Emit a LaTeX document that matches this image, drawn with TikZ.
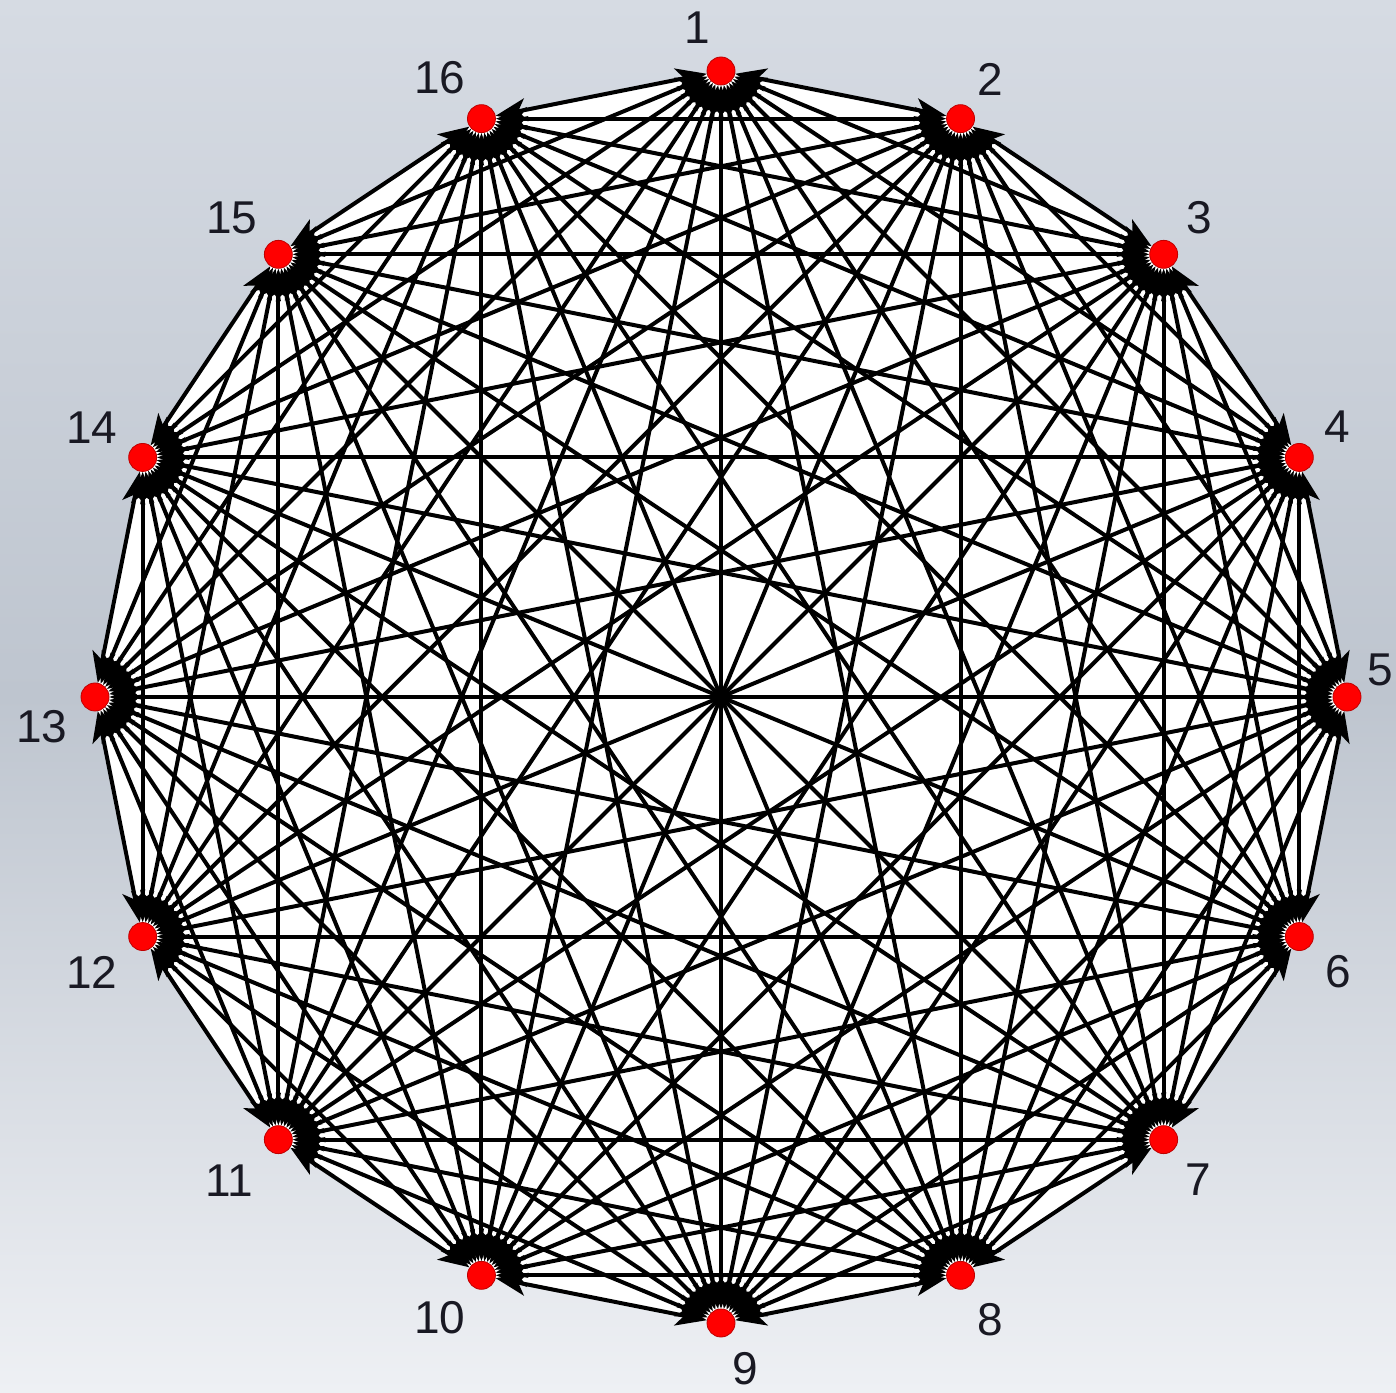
\documentclass[tikz,border=0pt]{standalone}
\usepackage{fontspec}
\setmainfont{Liberation Sans}
\usetikzlibrary{arrows.meta}
\pgfdeclarelayer{bg}
\pgfsetlayers{bg,main}
\definecolor{bgtop}{RGB}{214,219,227}
\definecolor{bgmid}{RGB}{190,197,207}
\definecolor{bgbot}{RGB}{238,240,244}
\definecolor{dotred}{RGB}{255,0,0}
\definecolor{labelcol}{RGB}{25,25,35}
\begin{document}
\begin{tikzpicture}[x=1pt,y=1pt,
  vertex/.style={circle,fill=dotred,draw=red!75!black,line width=0.8pt,minimum size=28pt,inner sep=0pt},
  edge/.style={line width=4pt,black,{Stealth[length=31pt,width=23pt,inset=8pt]}-{Stealth[length=31pt,width=23pt,inset=8pt]}},
  lab/.style={font=\fontsize{46}{46}\selectfont,text=labelcol,inner sep=0pt}]
\useasboundingbox (0,0) rectangle (1396,1392);
\foreach \k in {1,...,16} {
  \node[vertex] (n\k) at ({721+626*cos(90-(\k-1)*22.5)},{695+626*sin(90-(\k-1)*22.5)}) {};
}
\begin{pgfonlayer}{bg}
  \shade[top color=bgtop,bottom color=bgbot,middle color=bgmid] (0,0) rectangle (1396,1392);
  \fill[white] (n1.center) \foreach \k in {2,...,16}{ -- (n\k.center)} -- cycle;
  \foreach \i in {1,...,15}{
    \pgfmathtruncatemacro\s{\i+1}
    \foreach \j in {\s,...,16}{ \draw[edge] (n\i) -- (n\j); }
  }
\end{pgfonlayer}
\node[lab] (l1) at (697,1364) {1};
\node[lab] (l2) at (990,1313) {2};
\node[lab] (l3) at (1199,1174) {3};
\node[lab] (l4) at (1337,965) {4};
\node[lab] (l5) at (1380,722) {5};
\node[lab] (l6) at (1338,420) {6};
\node[lab] (l7) at (1198,212) {7};
\node[lab] (l8) at (990,72) {8};
\node[lab] (l9) at (745,23) {9};
\node[lab] (l10) at (440,74) {10};
\node[lab] (l11) at (229,211) {11};
\node[lab] (l12) at (92,420) {12};
\node[lab] (l13) at (42,665) {13};
\node[lab] (l14) at (92,964) {14};
\node[lab] (l15) at (232,1174) {15};
\node[lab] (l16) at (440,1314) {16};
\end{tikzpicture}
\end{document}
